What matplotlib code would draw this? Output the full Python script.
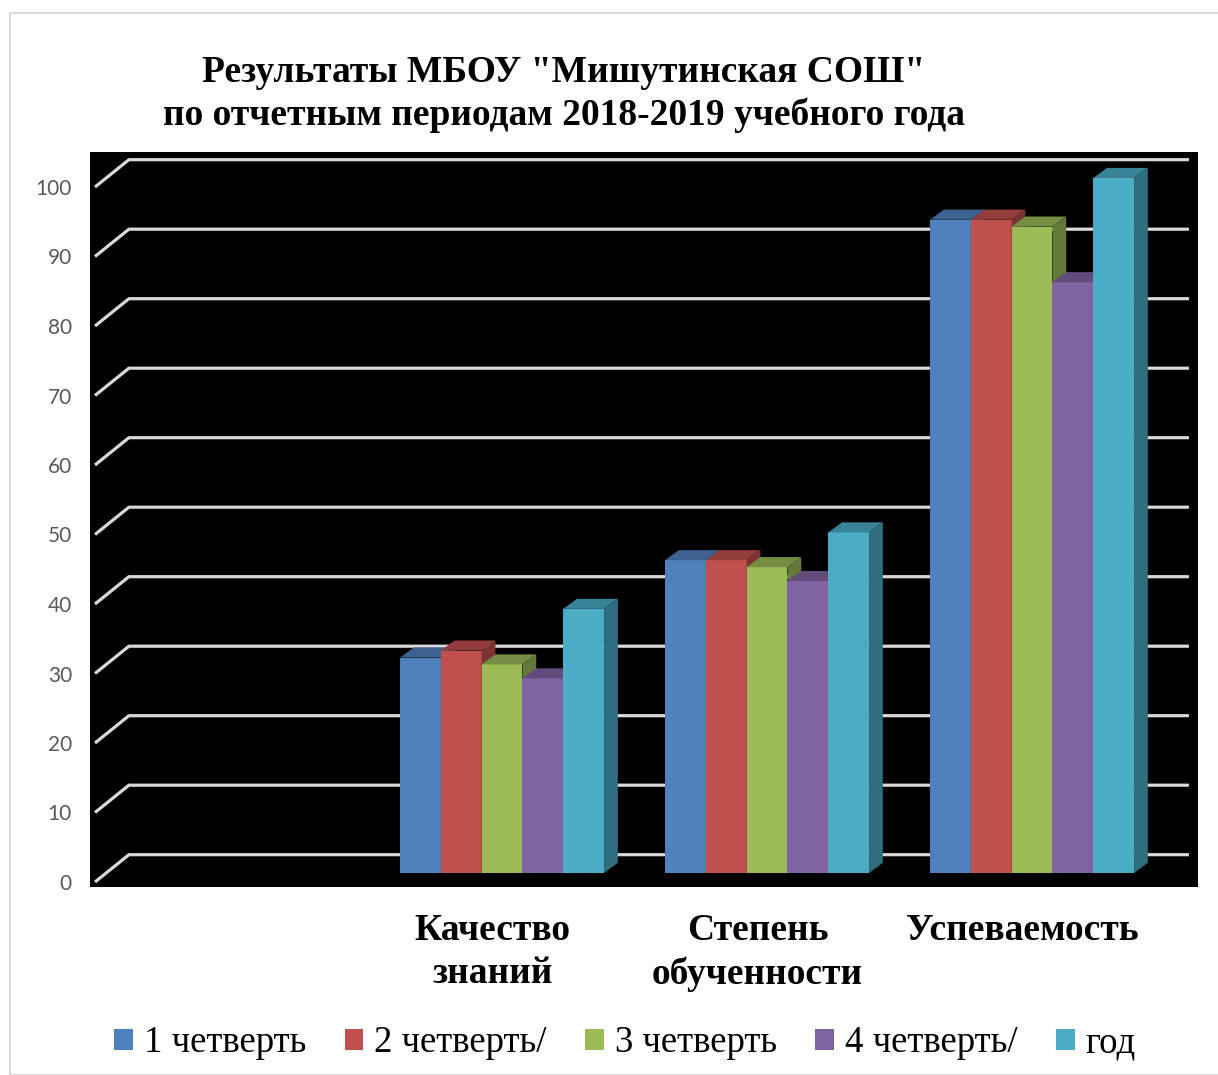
import matplotlib
matplotlib.use("Agg")
import matplotlib.pyplot as plt
from matplotlib.patches import Polygon, Rectangle, Patch
from matplotlib.colors import to_rgb

# data
categories = ["Качество\nзнаний", "Степень\nобученности", "Успеваемость"]
series = ["1 четверть", "2 четверть/", "3 четверть", "4 четверть/", "год"]
q1 = [31, 45, 94]
q2 = [32, 45, 94]
q3 = [30, 44, 93]
q4 = [28, 42, 85]
year = [38, 49, 100]
values = [q1, q2, q3, q4, year]
colors = ["#4F81BD", "#C0504D", "#9BBB59", "#8064A2", "#4BACC6"]
yticks = list(range(0, 101, 10))

# the original chart has an empty first category slot
first_slot = 1

# fake 3d: oblique offsets in data units
DX, DY = 0.128, 3.93          # full depth of the walls
BOX, BOY = 0.042, 1.3         # where bars stand inside the depth
BDX, BDY = 0.052, 1.45        # depth of each bar
bar_w = 0.154
bar_start = 0.109


def shade(c, f):
    r, g, b = to_rgb(c)
    return (r * f, g * f, b * f)


W, H = 1218, 1075
fig = plt.figure(figsize=(W / 100, H / 100), dpi=100)

# light frame around the chart
fig.patches.append(Rectangle((10 / W, 0), 1.2, 1 - 13 / H, transform=fig.transFigure,
                             fill=False, edgecolor="#d9d9d9", lw=1.5))

ax = fig.add_axes([90 / W, (H - 887) / H, 1108 / W, 735 / H])
ax.set_facecolor("black")
ax.set_xlim(-5 / 265, (1198 - 95) / 265)
ax.set_ylim(-5 / 6.95, (882 - 152) / 6.95)
for s in ax.spines.values():
    s.set_visible(False)

x_end = 4 + DX
for v in yticks:
    ax.plot([0, DX, x_end], [v, v + DY, v + DY], color="#d9d9d9", lw=2.3,
            solid_capstyle="butt", zorder=1)

for ci in range(len(categories)):
    base = ci + first_slot + bar_start
    for si, vals in enumerate(values):
        v = vals[ci]
        c = colors[si]
        x0 = base + si * bar_w + BOX
        x1 = x0 + bar_w
        y0 = BOY
        y1 = BOY + v
        ax.add_patch(Rectangle((x0, y0), bar_w, v, facecolor=c, lw=0, zorder=3))
        ax.add_patch(Polygon([(x0, y1), (x0 + BDX, y1 + BDY), (x1 + BDX, y1 + BDY), (x1, y1)],
                             closed=True, facecolor=shade(c, 0.76), lw=0, zorder=3))
        ax.add_patch(Polygon([(x1, y0), (x1 + BDX, y0 + BDY), (x1 + BDX, y1 + BDY), (x1, y1)],
                             closed=True, facecolor=shade(c, 0.64), lw=0, zorder=3))

ax.set_yticks(yticks)
ax.set_yticklabels([str(v) for v in yticks], family="Lato", fontsize=15, color="#595959")
ax.tick_params(axis="y", length=0, pad=13)

ax.set_xticks([i + first_slot + 0.5 for i in range(len(categories))])
ax.set_xticklabels(categories, family="Liberation Serif", fontweight="bold",
                   fontsize=27, linespacing=1.28)
ax.tick_params(axis="x", length=0, pad=19)

fig.text(564 / W, 1 - 94 / H,
         "Результаты МБОУ \"Мишутинская СОШ\"\nпо отчетным периодам 2018-2019 учебного года",
         ha="center", va="center", family="Liberation Serif", fontweight="bold",
         fontsize=27, linespacing=1.27)

handles = [Patch(facecolor=c, edgecolor="none") for c in colors]
fig.legend(handles, series, loc="center", bbox_to_anchor=(625 / W, 1 - 1043 / H), ncol=5,
           frameon=False, prop={"family": "Liberation Serif", "size": 26.5},
           handlelength=0.5, handleheight=0.5, handletextpad=0.3, columnspacing=1.05)

fig.savefig("out.png", dpi=100)
